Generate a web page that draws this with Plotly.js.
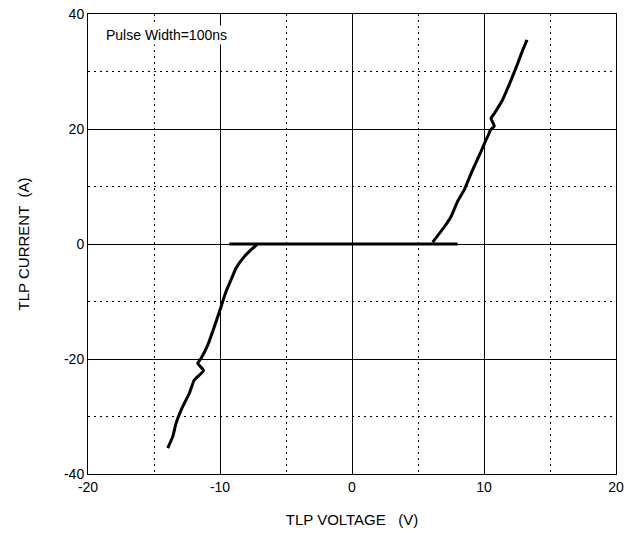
<!DOCTYPE html>
<html><head><meta charset="utf-8">
<script src="https://cdn.plot.ly/plotly-3.0.1.min.js"></script>
<style>body{margin:0;background:#fff}#c{width:636px;height:533px}</style>
</head><body><div id="c"></div>
<script>
// Zero-current (off-state) segment
const vZero = [-9.3, 8.0];
const iZero = [0, 0];
// Negative branch (V, A)
const vNeg = [-7.2, -7.6, -8.16, -8.79, -9.17, -9.55, -9.92, -10.43, -10.93, -11.44, -11.69, -11.24, -11.95, -12.33, -12.83, -13.33, -13.58, -13.96];
const iNeg = [-0.1, -0.9, -2.2, -4.2, -6.26, -8.3, -10.9, -14.4, -17.6, -19.9, -20.75, -22.0, -23.65, -26.0, -28.3, -31.2, -33.5, -35.5];
// Positive branch (V, A)
const vPos = [6.11, 7.0, 7.5, 8.0, 8.5, 9.14, 9.77, 10.15, 10.33, 10.48, 10.78, 10.53, 10.78, 11.4, 12.05, 12.55, 12.93, 13.26];
const iPos = [0.3, 3.0, 4.75, 7.4, 9.4, 12.9, 16.05, 18.1, 18.96, 19.8, 20.5, 21.85, 22.7, 25.04, 28.5, 31.4, 33.7, 35.5];
const xTicks = [-20, -10, 0, 10, 20];
const yTicks = [-40, -20, 0, 20, 40];

const lineStyle = {color: '#000', width: 3, shape: 'spline', smoothing: 0.4};
const traces = [
  {x: vZero, y: iZero, mode: 'lines', line: {color: '#000', width: 3.2}, hoverinfo: 'skip'},
  {x: vNeg, y: iNeg, mode: 'lines', line: lineStyle},
  {x: vPos, y: iPos, mode: 'lines', line: lineStyle}
];
const font = {family: 'Liberation Sans, Arial, sans-serif', color: '#000', size: 14};
const layout = {
  width: 636, height: 533,
  margin: {l: 88, r: 20, t: 14, b: 59},
  showlegend: false,
  paper_bgcolor: '#fff', plot_bgcolor: '#fff',
  font: font,
  xaxis: {
    range: [-20, 20], tickvals: xTicks, ticktext: xTicks.map(String),
    showgrid: true, gridcolor: '#000', gridwidth: 1,
    zeroline: false, showline: true, linecolor: '#000', linewidth: 1, mirror: true,
    ticks: '', ticklen: 0,
    minor: {dtick: 5, tick0: 0, showgrid: true, gridcolor: '#000', gridwidth: 1, griddash: '2px,4px', ticks: ''},
    title: {text: 'TLP VOLTAGE &nbsp; (V)', font: {size: 15}, standoff: 20},
    tickfont: {size: 14}, fixedrange: true
  },
  yaxis: {
    range: [-40, 40], tickvals: yTicks, ticktext: yTicks.map(String),
    showgrid: true, gridcolor: '#000', gridwidth: 1,
    zeroline: false, showline: true, linecolor: '#000', linewidth: 1, mirror: true,
    ticks: '', ticklen: 0,
    minor: {dtick: 10, tick0: 0, showgrid: true, gridcolor: '#000', gridwidth: 1, griddash: '2px,4px', ticks: ''},
    title: {text: 'TLP CURRENT &nbsp;(A)', font: {size: 15}, standoff: 30},
    tickfont: {size: 14}, fixedrange: true
  },
  annotations: [{
    xref: 'paper', yref: 'paper', x: 0.03, y: 0.955, xanchor: 'left', yanchor: 'middle',
    text: 'Pulse Width=100ns', showarrow: false, font: {size: 14, color: '#000'},
    bgcolor: '#fff'
  }]
};
Plotly.newPlot('c', traces, layout, {staticPlot: true});
</script>
</body></html>
